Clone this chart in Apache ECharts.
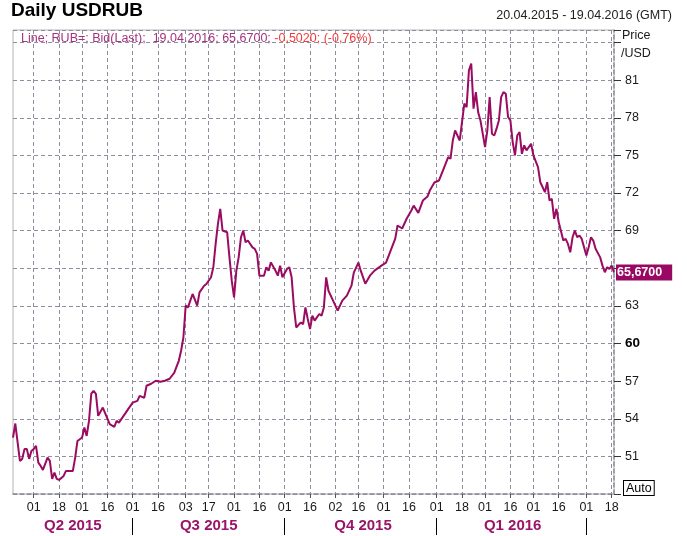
<!DOCTYPE html>
<html>
<head>
<meta charset="utf-8">
<title>Daily USDRUB</title>
<script src="https://cdn.jsdelivr.net/npm/echarts@6/dist/echarts.min.js"></script>
<style>
  html, body { margin: 0; padding: 0; background: #fff; }
  #main { width: 687px; height: 536px; }
</style>
</head>
<body>
<div id="main"></div>
<script>
// axis runs over trading days (weekdays) between these two dates
const firstDay = '2015-04-20';
const lastDay = '2016-04-19';

// closes
const closeDates = [
  '2015-04-20','2015-04-21','2015-04-23','2015-04-24','2015-04-27','2015-04-28','2015-04-29','2015-04-30',
  '2015-05-01','2015-05-04','2015-05-05','2015-05-06','2015-05-07','2015-05-11','2015-05-12','2015-05-13',
  '2015-05-14','2015-05-15','2015-05-18','2015-05-20','2015-05-21','2015-05-26','2015-05-27','2015-05-28',
  '2015-06-01','2015-06-02','2015-06-03','2015-06-04','2015-06-05','2015-06-08','2015-06-09','2015-06-10',
  '2015-06-12','2015-06-17','2015-06-19','2015-06-22','2015-06-23','2015-06-26','2015-06-29',
  '2015-07-01','2015-07-03','2015-07-06','2015-07-08','2015-07-09','2015-07-13','2015-07-15','2015-07-17',
  '2015-07-21','2015-07-23','2015-07-27','2015-07-29','2015-07-30','2015-07-31',
  '2015-08-03','2015-08-04','2015-08-05','2015-08-06','2015-08-10','2015-08-11','2015-08-13','2015-08-14',
  '2015-08-18','2015-08-19','2015-08-20','2015-08-21','2015-08-24','2015-08-25','2015-08-27','2015-08-28',
  '2015-08-31','2015-09-01','2015-09-02','2015-09-03','2015-09-04','2015-09-07','2015-09-08','2015-09-09',
  '2015-09-11','2015-09-14','2015-09-15','2015-09-16','2015-09-18','2015-09-21','2015-09-22','2015-09-23',
  '2015-09-25','2015-09-28','2015-09-29','2015-09-30','2015-10-02','2015-10-05','2015-10-06','2015-10-07',
  '2015-10-08','2015-10-12','2015-10-13','2015-10-14','2015-10-15','2015-10-16','2015-10-19','2015-10-20',
  '2015-10-22','2015-10-23','2015-10-26','2015-10-27','2015-10-28','2015-10-30',
  '2015-11-03','2015-11-05','2015-11-09','2015-11-11','2015-11-12','2015-11-16','2015-11-17','2015-11-19',
  '2015-11-23','2015-11-25','2015-11-30','2015-12-02','2015-12-04','2015-12-08','2015-12-09','2015-12-11',
  '2015-12-15','2015-12-17','2015-12-18','2015-12-22','2015-12-24','2015-12-28','2015-12-29','2015-12-31',
  '2016-01-04','2016-01-06','2016-01-08','2016-01-11','2016-01-12','2016-01-13','2016-01-15','2016-01-18',
  '2016-01-19','2016-01-20','2016-01-21','2016-01-22','2016-01-25','2016-01-26','2016-01-27','2016-01-28',
  '2016-02-01','2016-02-02','2016-02-03','2016-02-04','2016-02-05','2016-02-08','2016-02-09','2016-02-10',
  '2016-02-11','2016-02-12','2016-02-15','2016-02-16','2016-02-17','2016-02-18','2016-02-19','2016-02-22',
  '2016-02-23','2016-02-24','2016-02-25','2016-02-29','2016-03-01','2016-03-03','2016-03-04','2016-03-08',
  '2016-03-09','2016-03-10','2016-03-11','2016-03-14','2016-03-15','2016-03-16','2016-03-18','2016-03-21',
  '2016-03-22','2016-03-23','2016-03-24','2016-03-25','2016-03-28','2016-03-29','2016-03-30','2016-04-01',
  '2016-04-04','2016-04-05','2016-04-06','2016-04-07','2016-04-11','2016-04-12','2016-04-13','2016-04-14',
  '2016-04-15','2016-04-18','2016-04-19'
];
const closeValues = [
  52.50, 53.62, 50.64, 50.80, 51.59, 51.59, 50.80, 51.43,
  51.59, 51.83, 50.50, 50.24, 49.92, 50.90, 50.64, 49.20,
  49.70, 49.20, 49.12, 49.44, 49.84, 49.84, 50.90, 52.23,
  52.50, 53.30, 52.63, 53.83, 56.00, 56.23, 55.99, 54.23,
  54.89, 53.57, 53.35, 53.83, 53.69, 54.49, 54.77,
  55.29, 55.43, 55.83, 55.67, 56.63, 56.79, 57.03, 56.95,
  57.03, 57.19, 57.66, 58.62, 59.42, 60.48,
  63.02, 62.88, 63.42, 63.95, 63.02, 64.08, 64.61, 64.75,
  65.28, 66.08, 67.94, 69.54, 70.74, 69.01, 68.87, 66.87,
  65.01, 63.68, 65.81, 66.87, 68.47, 69.01, 68.07, 68.21,
  67.67, 67.55, 67.15, 65.41, 65.41, 66.08, 65.81, 66.47,
  65.81, 65.41, 66.21, 65.28, 65.95, 66.08, 65.28, 62.88,
  61.28, 61.68, 61.55, 62.88, 61.95, 61.15, 62.22, 61.82,
  62.35, 62.22, 62.88, 65.28, 64.21, 63.42,
  62.62, 63.42, 63.82, 64.61, 65.65, 66.45, 65.81, 64.77,
  65.41, 65.81, 66.21, 66.45, 67.41, 68.37, 69.41, 69.17,
  69.97, 70.61, 71.00, 70.42, 71.40, 71.72, 72.20, 72.84,
  73.00, 73.93, 74.86, 74.73, 76.19, 76.99, 76.19, 77.66,
  79.13, 78.85, 81.79, 82.32, 78.73, 80.05, 78.45, 77.79,
  75.66, 76.99, 79.65, 76.73, 76.59, 77.13, 77.79, 79.65,
  80.05, 79.92, 78.06, 77.79, 76.06, 75.00, 76.59, 76.86,
  75.13, 75.80, 75.40, 75.93, 75.00, 74.06, 72.86, 72.07,
  72.86, 71.40, 71.54, 69.94, 70.74, 69.67, 68.21, 68.34,
  67.94, 67.27, 68.47, 69.01, 68.47, 68.61, 68.34, 67.01,
  67.67, 68.47, 68.21, 67.55, 66.87, 66.21, 65.68, 66.08,
  65.95, 66.21, 65.67
];

// labelled days on the date axis
const tickDates = [
  '2015-05-01','2015-05-18','2015-06-01','2015-06-16','2015-07-01','2015-07-16',
  '2015-08-03','2015-08-17','2015-09-01','2015-09-16','2015-10-01','2015-10-16',
  '2015-11-02','2015-11-16','2015-12-01','2015-12-16','2016-01-01','2016-01-18',
  '2016-02-01','2016-02-16','2016-03-01','2016-03-16','2016-04-01','2016-04-18'
];
const quarterStarts = ['2015-07-01','2015-10-01','2016-01-01','2016-04-01'];
const quarterLabelDates = ['2015-05-26','2015-08-17','2015-11-18','2016-02-17'];
const quarterLabels = ['Q2 2015','Q3 2015','Q4 2015','Q1 2016'];
const hiddenPriceLabels = [48, 66, 84, 85];

const lineColor = '#9a0b62';
const gridColor = '#8e8e9e';

function tradingDays(from, to) {
  const out = [];
  const d = new Date(from + 'T00:00:00Z');
  const end = new Date(to + 'T00:00:00Z');
  while (d <= end) {
    const wd = d.getUTCDay();
    if (wd !== 0 && wd !== 6) out.push(d.toISOString().slice(0, 10));
    d.setUTCDate(d.getUTCDate() + 1);
  }
  return out;
}

const days = tradingDays(firstDay, lastDay);
const tickSet = new Set(tickDates);
const qStartSet = new Set(quarterStarts);
const qLabelMap = {};
quarterLabelDates.forEach((d, i) => { qLabelMap[d] = quarterLabels[i]; });

const chart = echarts.init(document.getElementById('main'));
chart.setOption({
  animation: false,
  backgroundColor: '#fff',
  textStyle: { fontFamily: 'Liberation Sans, Arial, sans-serif' },
  title: [
    {
      text: 'Daily USDRUB', left: 11, top: 1, padding: 0,
      textStyle: { fontSize: 19, fontWeight: 'bold', color: '#000' }
    },
    {
      text: '20.04.2015 - 19.04.2016 (GMT)', right: 15, top: 9, padding: 0,
      textStyle: { fontSize: 12.5, fontWeight: 'normal', color: '#222' }
    },
    {
      text: '{a|Line; RUB=; Bid(Last);  19.04.2016; 65,6700; }{b|-0,5020; (-0,76%)}',
      left: 21, top: 32, padding: 0,
      textStyle: {
        fontWeight: 'normal',
        rich: {
          a: { fontSize: 12.5, fontWeight: 'normal', color: '#a3337f' },
          b: { fontSize: 12.5, fontWeight: 'normal', color: '#f23a3a' }
        }
      }
    }
  ],
  grid: {
    left: 13, right: 73, top: 30, bottom: 42,
    show: true, borderColor: '#b4b4b4', borderWidth: 1
  },
  xAxis: [
    {
      type: 'category',
      data: days,
      boundaryGap: false,
      axisLine: { show: true, lineStyle: { color: gridColor, type: [4, 3], width: 1.5 } },
      axisTick: {
        show: true, length: 4, interval: (i, v) => tickSet.has(v),
        lineStyle: { color: '#555' }
      },
      axisLabel: {
        interval: (i, v) => tickSet.has(v),
        formatter: v => v.slice(8),
        color: '#1a1a1a', fontSize: 12.5, margin: 7
      },
      splitLine: {
        show: true, interval: (i, v) => tickSet.has(v),
        lineStyle: { color: gridColor, type: [4, 3], width: 1 }
      }
    },
    {
      type: 'category',
      data: days,
      boundaryGap: false,
      position: 'bottom',
      offset: 24,
      axisLine: { show: false },
      axisTick: {
        show: true, length: 17, interval: (i, v) => qStartSet.has(v),
        lineStyle: { color: '#000', width: 1 }
      },
      axisLabel: {
        interval: (i, v) => v in qLabelMap,
        formatter: v => qLabelMap[v] || '',
        color: '#9a1468', fontSize: 15, fontWeight: 'bold', margin: 0
      },
      splitLine: { show: false }
    }
  ],
  yAxis: {
    type: 'value',
    position: 'right',
    min: 48, max: 85, interval: 3,
    axisLine: { show: true, lineStyle: { color: gridColor, type: [4, 3], width: 1.5 } },
    axisTick: { show: true, length: 7, lineStyle: { color: '#333' } },
    axisLabel: {
      margin: 11, color: '#1a1a1a', fontSize: 12.5,
      formatter: v => hiddenPriceLabels.includes(v) ? '' : (v === 60 ? '{b|60}' : String(v)),
      rich: { b: { fontSize: 13.5, fontWeight: 'bold', color: '#000' } }
    },
    splitLine: { show: true, lineStyle: { color: gridColor, type: [4, 3], width: 1 } }
  },
  graphic: [
    { type: 'text', left: 622, top: 29, silent: true,
      style: { text: 'Price', fontSize: 12.5, fill: '#1a1a1a', fontFamily: 'Liberation Sans, Arial, sans-serif' } },
    { type: 'text', left: 621, top: 47, silent: true,
      style: { text: '/USD', fontSize: 12.5, fill: '#1a1a1a', fontFamily: 'Liberation Sans, Arial, sans-serif' } },
    { type: 'text', left: 623, top: 480, silent: true,
      style: {
        text: 'Auto', fontSize: 12.5, fill: '#000', fontFamily: 'Liberation Sans, Arial, sans-serif',
        backgroundColor: '#fff', borderColor: '#000', borderWidth: 1, padding: [1, 2, 0, 2]
      } }
  ],
  series: [{
    type: 'line',
    data: closeDates.map((d, i) => [d, closeValues[i]]),
    showSymbol: false,
    silent: true,
    lineStyle: { color: lineColor, width: 2 },
    itemStyle: { color: lineColor },
    endLabel: {
      show: true,
      formatter: '65,6700',
      color: '#fff',
      backgroundColor: '#990863',
      fontWeight: 'bold',
      fontSize: 12.5,
      padding: [2, 10, 1, 1],
      distance: 2
    }
  }]
});
</script>
</body>
</html>
